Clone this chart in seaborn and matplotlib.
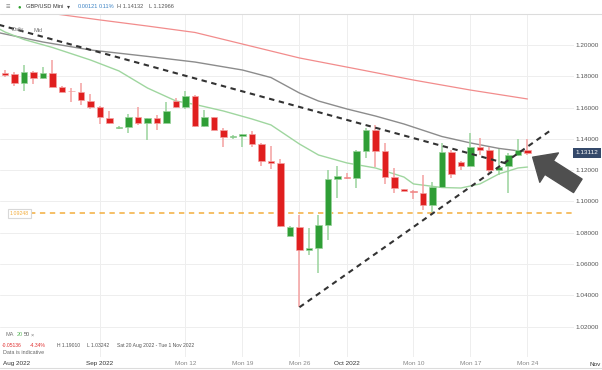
import matplotlib
matplotlib.use("Agg")
import matplotlib.pyplot as plt
import seaborn as sns
import pandas as pd
import numpy as np
from matplotlib.lines import Line2D
from matplotlib.transforms import blended_transform_factory

# daily candles, index 0 = Sun 21 Aug 2022 (6 sessions per week incl. Sunday)
opens = [1.1819, 1.1815, 1.1759, 1.1829, 1.1787, 1.1823, 1.1734, 1.1709, 1.1702, 1.1644,
         1.1606, 1.1535, 1.1468, 1.1474, 1.1542, 1.1503, 1.1532, 1.1503, 1.1642, 1.1602,
         1.1674, 1.1482, 1.1538, 1.1457, 1.1412, 1.1420, 1.1431, 1.1367, 1.1261, 1.1244,
         1.0780, 1.0839, 1.0690, 1.0705, 1.0850, 1.1142, 1.1155, 1.1148, 1.1323, 1.1457,
         1.1323, 1.1158, 1.1078, 1.1069, 1.1056, 1.0978, 1.1091, 1.1318, 1.1254, 1.1229,
         1.1350, 1.1329, 1.1201, 1.1227, 1.1297, 1.1330]
highs = [1.1840, 1.1826, 1.1872, 1.1832, 1.1857, 1.1901, 1.1738, 1.1723, 1.1755, 1.1685,
         1.1610, 1.1580, 1.1480, 1.1559, 1.1602, 1.1534, 1.1553, 1.1634, 1.1659, 1.1706,
         1.1678, 1.1585, 1.1540, 1.1468, 1.1425, 1.1433, 1.1452, 1.1372, 1.1355, 1.1270,
         1.0842, 1.0914, 1.0832, 1.0914, 1.1201, 1.1227, 1.1184, 1.1326, 1.1468, 1.1489,
         1.1376, 1.1217, 1.1080, 1.1073, 1.1169, 1.1127, 1.1376, 1.1329, 1.1259, 1.1436,
         1.1404, 1.1350, 1.1334, 1.1308, 1.1397, 1.1400]
lows = [1.1797, 1.1738, 1.1708, 1.1751, 1.1781, 1.1730, 1.1700, 1.1638, 1.1617, 1.1589,
        1.1493, 1.1497, 1.1466, 1.1440, 1.1489, 1.1393, 1.1457, 1.1500, 1.1600, 1.1589,
        1.1478, 1.1479, 1.1454, 1.1346, 1.1399, 1.1350, 1.1346, 1.1227, 1.1206, 1.0839,
        1.0777, 1.0324, 1.0658, 1.0541, 1.0754, 1.1020, 1.1142, 1.1084, 1.1276, 1.1222,
        1.1112, 1.1054, 1.1064, 1.1014, 1.0946, 1.0935, 1.1088, 1.1148, 1.1201, 1.1226,
        1.1297, 1.1180, 1.1169, 1.1056, 1.1291, 1.1297]
closes = [1.1810, 1.1759, 1.1829, 1.1787, 1.1823, 1.1734, 1.1702, 1.1703, 1.1649, 1.1606,
          1.1538, 1.1500, 1.1478, 1.1538, 1.1503, 1.1532, 1.1503, 1.1580, 1.1602, 1.1674,
          1.1482, 1.1538, 1.1457, 1.1414, 1.1419, 1.1431, 1.1367, 1.1261, 1.1244, 1.0845,
          1.0839, 1.0690, 1.0705, 1.0850, 1.1142, 1.1163, 1.1148, 1.1323, 1.1457, 1.1323,
          1.1158, 1.1086, 1.1067, 1.1059, 1.0978, 1.1091, 1.1318, 1.1176, 1.1229, 1.1350,
          1.1329, 1.1201, 1.1222, 1.1294, 1.1329, 1.1311]

# moving averages (sampled off the chart)
ma20_x = [-1, 0, 2, 5, 9, 12, 15, 18, 20, 23, 26, 28, 31, 33, 36, 39, 42, 43, 46, 48, 50, 52, 54, 55]
ma20_y = [1.2115, 1.2083, 1.2035, 1.1984, 1.1904, 1.1834, 1.1725, 1.1642, 1.1620, 1.1578,
          1.1527, 1.1489, 1.1367, 1.1297, 1.1246, 1.1214, 1.1156, 1.1112, 1.1089, 1.1086,
          1.1112, 1.1176, 1.1214, 1.1220]
ma50_x = [-1, 0, 4, 9, 15, 20, 25, 28, 31, 33, 36, 39, 42, 46, 49, 52, 55]
ma50_y = [1.2083, 1.2070, 1.2019, 1.1968, 1.1927, 1.1891, 1.1840, 1.1792, 1.1693, 1.1642,
          1.1591, 1.1546, 1.1495, 1.1415, 1.1374, 1.1339, 1.1316]
ma100_x = [3, 5, 10, 15, 20, 25, 31, 37, 43, 49, 55]
ma100_y = [1.2230, 1.2201, 1.2160, 1.2121, 1.2080, 1.2006, 1.1917, 1.1847, 1.1776, 1.1712, 1.1655]

# hand-drawn trendlines
upper_tl_x = [-1, 53]
upper_tl_y = [1.2135, 1.1239]
lower_tl_x = [31, 57.5]
lower_tl_y = [1.0324, 1.1457]
support_level = 1.09248
last_price = 1.13112

tick_pos = [10, 19, 25, 31, 36, 43, 49, 55]
tick_labels = ["Sep 2022", "Mon 12", "Mon 19", "Mon 26", "Oct 2022", "Mon 10", "Mon 17", "Mon 24"]
yticks = [1.02, 1.04, 1.06, 1.08, 1.10, 1.12, 1.14, 1.16, 1.18, 1.20]

sns.set_theme(style="white")
plt.rcParams['font.family'] = ['Liberation Sans', 'DejaVu Sans']

W, H = 602, 370
fig = plt.figure(figsize=(W / 100, H / 100), dpi=100)
ax = fig.add_axes([0, 1 - 357 / H, 574 / W, (357 - 14) / H])
ax.set_xlim(-0.526, 59.9)
ax.set_ylim(1.0006, 1.2198)
for s in ax.spines.values():
    s.set_visible(False)

# grid
for yv in yticks:
    ax.axhline(yv, color="#eeeeee", lw=0.7, zorder=0)
for xv in tick_pos:
    ax.axvline(xv, color="#eeeeee", lw=0.7, zorder=0)

df = pd.DataFrame({"o": opens, "h": highs, "l": lows, "c": closes})
df["i"] = np.arange(len(df))
up = df["c"] >= df["o"]
body_col = np.where(up, "#2f9e36", "#e01f1f")
wick_col = np.where(up, "#9ad39c", "#f4a0a0")

# moving averages
sns.lineplot(x=ma100_x, y=ma100_y, ax=ax, color="#f28c8c", lw=0.9, zorder=2)
sns.lineplot(x=ma50_x, y=ma50_y, ax=ax, color="#8c8c8c", lw=1.0, zorder=2)
sns.lineplot(x=ma20_x, y=ma20_y, ax=ax, color="#9fd69f", lw=1.0, zorder=2)

# candles
ax.vlines(df["i"], df["l"], df["h"], colors=wick_col, lw=1.1, zorder=3)
ax.bar(df["i"], (df["c"] - df["o"]).abs().clip(lower=0.0005), bottom=df[["o", "c"]].min(axis=1),
       width=0.72, color=body_col, edgecolor=wick_col, lw=0.5, zorder=4)

# support line
ax.axhline(support_level, xmin=30 / 574, color="#f2ad3d", lw=1.1, ls=(0, (3.5, 3)), zorder=2)
ax.text(0.5, support_level, f"{support_level:.5f}", fontsize=3.8, color="#f2ad3d",
        ha="left", va="center", zorder=6,
        bbox=dict(boxstyle="square,pad=0.35", fc="white", ec="#d8d8d8", lw=0.8))

# trendlines
ax.plot(upper_tl_x, upper_tl_y, color="#333333", lw=1.5, ls=(0, (2.6, 2.2)), zorder=5)
ax.plot(lower_tl_x, lower_tl_y, color="#333333", lw=1.5, ls=(0, (2.6, 2.2)), zorder=5)

# big arrow
ax.annotate("", xy=(55.55, 1.1283), xytext=(60.3, 1.1100),
            arrowprops=dict(arrowstyle="simple,head_length=1.4,head_width=2.5,tail_width=1.15",
                            fc="#4f4f4f", ec="#4f4f4f", mutation_scale=10, shrinkA=0, shrinkB=0),
            annotation_clip=False, zorder=7)

# price axis on the right
ax.yaxis.tick_right()
ax.set_yticks(yticks)
ax.set_yticklabels([f"{v:.5f}" for v in yticks])
ax.tick_params(axis="y", length=0, pad=1.2, labelsize=4.6, labelcolor="#555555")
trans = blended_transform_factory(ax.transAxes, ax.transData)
ax.text(1.003, last_price, f"{last_price:.5f}", transform=trans, fontsize=4.6, color="white",
        ha="left", va="center", zorder=8,
        bbox=dict(boxstyle="square,pad=0.35", fc="#34496a", ec="none"))

# time axis
ax.set_xticks(tick_pos)
ax.set_xticklabels(tick_labels)
ax.tick_params(axis="x", length=0, pad=3, labelsize=4.6, labelcolor="#888888")
for lbl in ax.get_xticklabels():
    if "2022" in lbl.get_text():
        lbl.set_color("#333333")
fig.text(3 / W, 1 - 364 / H, "Aug 2022", fontsize=4.6, color="#333333", ha="left", va="center")
fig.text(589 / W, 1 - 364 / H, "Nov", fontsize=4.6, color="#333333", ha="left", va="center")

# frame lines
fig.add_artist(Line2D([0, 1], [1 - 14 / H, 1 - 14 / H], color="#dcdcdc", lw=0.8))
fig.add_artist(Line2D([0, 1], [1 - 368 / H, 1 - 368 / H], color="#dcdcdc", lw=0.8))

# header
hy = 1 - 7 / H
fig.text(6 / W, hy, "≡", fontsize=5.5, color="#888888", va="center")
fig.text(18 / W, hy, "●", fontsize=4.2, color="#2ca02c", va="center")
fig.text(26 / W, hy, "GBP/USD Mini", fontsize=4.1, color="#333333", va="center")
fig.text(67 / W, hy, "▾", fontsize=4.3, color="#444444", va="center")
fig.text(78 / W, hy, "0.00121", fontsize=4.1, color="#3b82c4", va="center")
fig.text(99 / W, hy, "0.11%", fontsize=4.1, color="#3b82c4", va="center")
fig.text(117 / W, hy, "H 1.14132", fontsize=4.1, color="#555555", va="center")
fig.text(149 / W, hy, "L 1.12966", fontsize=4.1, color="#555555", va="center")

fig.text(12 / W, 1 - 30 / H, "Daily", fontsize=4.0, color="#777777", va="center")
fig.text(33 / W, 1 - 30 / H, "Mid", fontsize=4.0, color="#777777", va="center")

# bottom-left legend
fig.text(5 / W, 1 - 335 / H, "MA", fontsize=4.0, color="#777777", va="center")
fig.text(17 / W, 1 - 335 / H, "20", fontsize=4.0, color="#5cb85c", va="center")
fig.text(24 / W, 1 - 335 / H, "50", fontsize=4.0, color="#555555", va="center")
fig.text(31 / W, 1 - 335 / H, "×", fontsize=4.0, color="#777777", va="center")
fig.text(2 / W, 1 - 345.5 / H, "-0.05136", fontsize=3.6, color="#e03030", va="center")
fig.text(30 / W, 1 - 345.5 / H, "-4.34%", fontsize=3.6, color="#e03030", va="center")
fig.text(57 / W, 1 - 345.5 / H, "H 1.19010", fontsize=3.6, color="#555555", va="center")
fig.text(87 / W, 1 - 345.5 / H, "L 1.03242", fontsize=3.6, color="#555555", va="center")
fig.text(117 / W, 1 - 345.5 / H, "Sat 20 Aug 2022 - Tue 1 Nov 2022", fontsize=3.6, color="#555555", va="center")
fig.text(3 / W, 1 - 353 / H, "Data is indicative", fontsize=3.9, color="#666666", va="center")

fig.savefig("out.png", dpi=100)
